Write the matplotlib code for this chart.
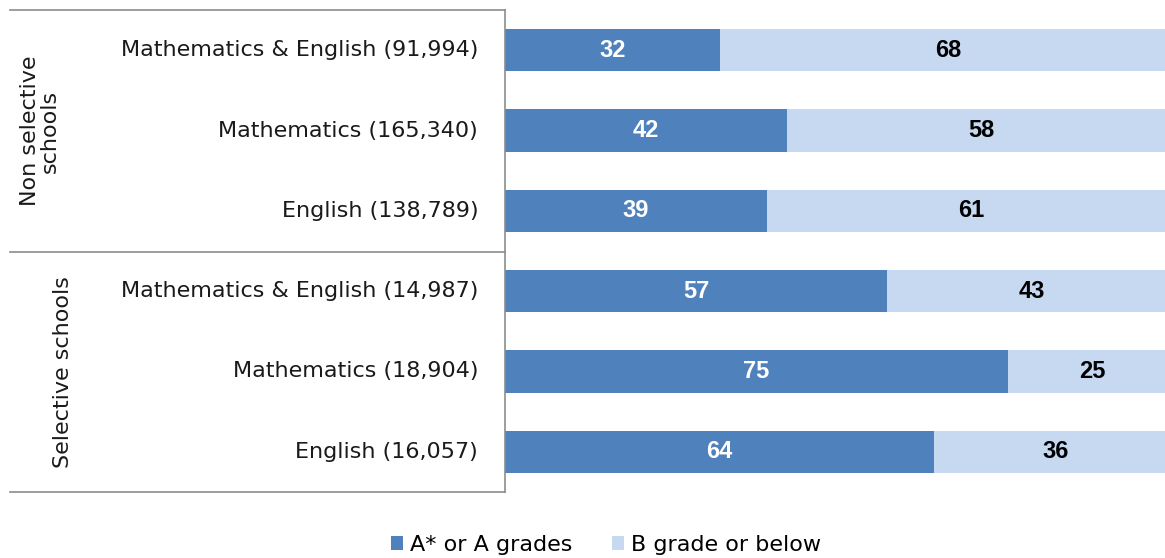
import matplotlib
matplotlib.use("Agg")
import matplotlib.pyplot as plt
from matplotlib.lines import Line2D
from matplotlib.patches import Patch

categories = ["Mathematics & English (91,994)", "Mathematics (165,340)", "English (138,789)",
              "Mathematics & English (14,987)", "Mathematics (18,904)", "English (16,057)"]
groups = ["Non selective\nschools", "Selective schools"]
a_grades = [32, 42, 39, 57, 75, 64]
b_grades = [68, 58, 61, 43, 25, 36]
series_names = ["A* or A grades", "B grade or below"]

dark = "#4F81BD"
light = "#C6D9F1"
line_col = "#8C8C8C"
txt_col = "#1a1a1a"
fs = 16

W, H = 1165, 558
fig = plt.figure(figsize=(W / 100, H / 100), dpi=100)
ax_l, ax_r, ax_t, ax_b = 505 / W, 1176 / W, 1 - 10 / H, 1 - 492 / H
ax = fig.add_axes([ax_l, ax_b, ax_r - ax_l, ax_t - ax_b])

y = list(range(len(categories)))
ax.barh(y, a_grades, height=0.53, color=dark, edgecolor="none")
ax.barh(y, b_grades, left=a_grades, height=0.53, color=light, edgecolor="none")
for yi, a, b in zip(y, a_grades, b_grades):
    ax.text(a / 2, yi, str(a), ha="center", va="center", color="white",
            fontsize=17, fontweight="bold", family="Liberation Sans")
    ax.text(a + b / 2, yi, str(b), ha="center", va="center", color="black",
            fontsize=17, fontweight="bold", family="Liberation Sans")

ax.set_xlim(0, 100)
ax.set_ylim(len(categories) - 0.5, -0.5)
ax.set_xticks([])
ax.set_yticks([])
for s in ["top", "right", "bottom"]:
    ax.spines[s].set_visible(False)
ax.spines["left"].set_color(line_col)
ax.spines["left"].set_linewidth(1.2)

# category labels
for yi, c in zip(y, categories):
    ax.text(-0.04, yi, c, transform=ax.get_yaxis_transform(), ha="right", va="center",
            fontsize=fs, color=txt_col, family="DejaVu Sans")

# horizontal divider lines in figure coordinates
for py in [10, 252, 492]:
    fig.add_artist(Line2D([10 / W, ax_l], [1 - py / H, 1 - py / H], color=line_col, lw=1.2))

# group labels
fig.text(40 / W, 1 - 131 / H, groups[0], rotation=90, ha="center", va="center",
         fontsize=fs, color=txt_col, linespacing=1.0, multialignment="center")
fig.text(63 / W, 1 - 372 / H, groups[1], rotation=90, ha="center", va="center",
         fontsize=fs, color=txt_col)

handles = [Patch(facecolor=dark, edgecolor="none"), Patch(facecolor=light, edgecolor="none")]
fig.legend(handles, series_names, loc="center", bbox_to_anchor=(606 / W, 1 - 545 / H),
           ncol=2, frameon=False, fontsize=fs, handlelength=0.55, handleheight=0.55,
           handletextpad=0.3, columnspacing=1.8)

fig.savefig("out.png", dpi=100)
